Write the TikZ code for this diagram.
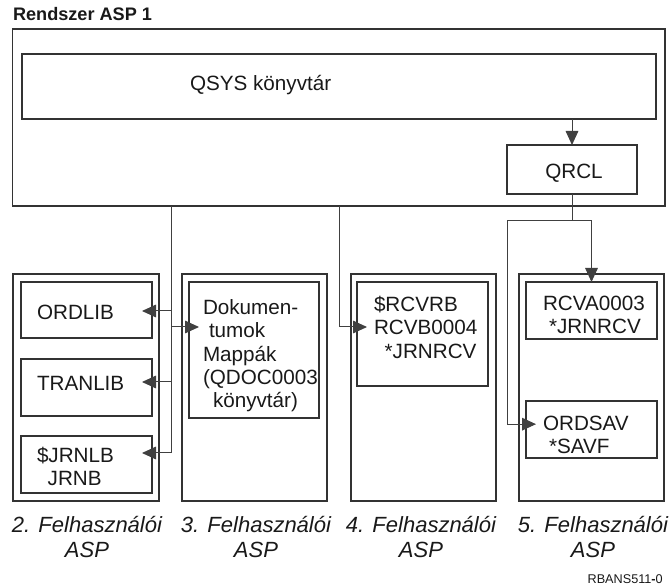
\documentclass[tikz,border=0pt]{standalone}
\usepackage{fontspec}
\setmainfont{Liberation Sans}
\usetikzlibrary{fit,arrows.meta}
\begin{document}
\begin{tikzpicture}[x=0.75pt,y=-0.75pt,
  box/.style={draw=black!80, line width=0.9pt, inner sep=0pt, outer sep=0pt},
  lbl/.style={font=\fontsize{15.5}{17.5}\selectfont, inner sep=0pt, outer sep=0pt, align=left, text=black!90},
  asplabel/.style={font=\fontsize{16.5}{18.75}\selectfont\itshape, inner sep=0pt, align=center, text=black!90},
  wire/.style={draw=black!75, line width=0.75pt},
  arr/.style={wire, -{Triangle[length=10.5pt,width=9.5pt]}},
  into/.style={arr, shorten >=-7.5pt}]
\useasboundingbox (0,0) rectangle (669,588);

% system ASP and its libraries
\node[lbl, anchor=base west, font=\fontsize{13.6}{15}\selectfont\bfseries] (title) at (13,21) {Rendszer ASP 1};
\node[box, fit={(12.7,29) (665,206)}] (sys) {};
\node[box, fit={(22,54) (656,119)}] (qsys) {};
\node[box, fit={(507,145) (637,194)}] (qrcl) {};
\node[lbl, anchor=base west] (tqsys) at (190,90.5) {QSYS könyvtár};
\node[lbl, anchor=base] (tqrcl) at (574,178.5) {QRCL};

% user ASP columns
\node[box, fit={(13,274) (159,501)}] (col2) {};
\node[box, fit={(182,274) (327,501)}] (col3) {};
\node[box, fit={(351,274) (496,501)}] (col4) {};
\node[box, fit={(519,274) (664,501)}] (col5) {};

% objects inside the user ASPs
\node[box, fit={(21,282) (152,338)}] (ordlib) {};
\node[box, fit={(21,359) (152,416)}] (tranlib) {};
\node[box, fit={(21,436) (152,493)}] (jrnlb) {};
\node[box, fit={(189,282) (319,418)}] (dok) {};
\node[box, fit={(357,282) (488,386)}] (rcvrb) {};
\node[box, fit={(526,282) (657,339)}] (rcva) {};
\node[box, fit={(526,401) (657,458)}] (ordsav) {};

% multi-line texts are placed by the baseline of their last line
\node[lbl, anchor=base west] (tord) at (37,319.5) {ORDLIB};
\node[lbl, anchor=base west] (ttran) at (37,390.5) {TRANLIB};
\node[lbl, anchor=base west] (tjrn) at (37,485.8) {\$JRNLB\\\hspace*{8pt}JRNB};
\node[lbl, anchor=base west] (tdok) at (203,407.8)
  {Dokumen-\\\hspace*{4.5pt}tumok\\Mappák\\(QDOC0003\\\hspace*{7.5pt}könyvtár)};
\node[lbl, anchor=base west] (trcvrb) at (374,358.2) {\$RCVRB\\RCVB0004\\\hspace*{8pt}*JRNRCV};
\node[lbl, anchor=base west] (trcva) at (543,333.8) {RCVA0003\\\hspace*{4.5pt}*JRNRCV};
\node[lbl, anchor=base west] (tordsav) at (543,453.8) {ORDSAV\\\hspace*{4.5pt}*SAVF};

% QSYS -> QRCL -> ASP 5
\draw[arr] (qrcl.north |- qsys.south) -- (qrcl.north);
\coordinate (j5) at (572,221);
\coordinate (b5) at (507,221);
\draw[wire] (qrcl.south) -- (j5);
\draw[arr] (j5) -| (rcva.north);
\draw[into] (j5) -- (b5) |- ([yshift=4pt]ordsav.west);

% bus into ASP 2 and ASP 3
\coordinate (top2) at (171,206);
\coordinate (h1) at (171,311);
\coordinate (h2) at (171,327);
\coordinate (h3) at (171,382);
\coordinate (h4) at (171,453);
\draw[wire] (top2) -- (h4);
\draw[into] (h1) -- (h1 -| ordlib.east);
\draw[into] (h2) -- (h2 -| dok.west);
\draw[into] (h3) -- (h3 -| tranlib.east);
\draw[into] (h4) -- (h4 -| jrnlb.east);

% bus into ASP 4
\coordinate (top4) at (339,206);
\coordinate (h5) at (339,327);
\draw[into] (top4) |- (h5 -| rcvrb.west);

% captions
\node[asplabel, anchor=base] (l2) at (87,558) {2. Felhasználói\\ASP};
\node[asplabel, anchor=base] (l3) at (256,558) {3. Felhasználói\\ASP};
\node[asplabel, anchor=base] (l4) at (421,558) {4. Felhasználói\\ASP};
\node[asplabel, anchor=base] (l5) at (593,558) {5. Felhasználói\\ASP};
\node[anchor=base east, inner sep=0pt, font=\fontsize{9.5}{11}\selectfont, text=black!90] (code) at (663,584) {RBANS511{\bfseries -}0};
\end{tikzpicture}
\end{document}
